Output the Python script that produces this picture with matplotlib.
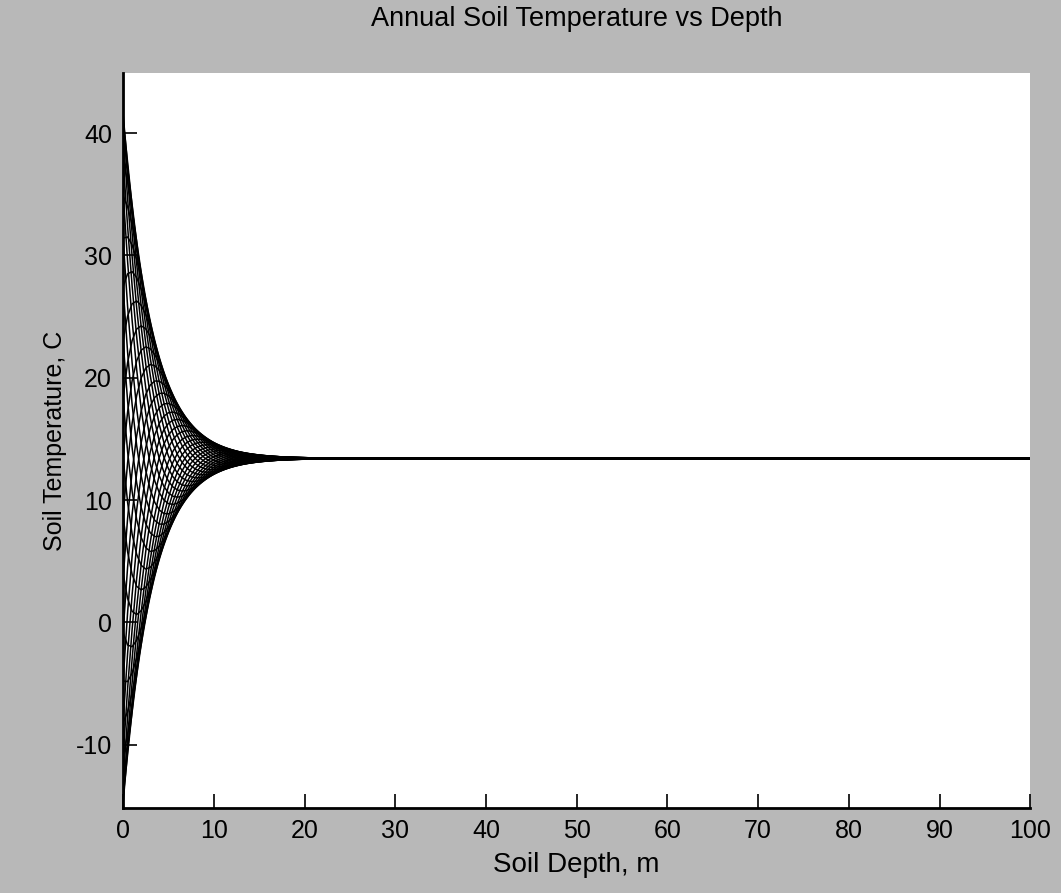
import numpy as np
import matplotlib.pyplot as plt

# values
mean_temp = 13.4          # deg C, the flat line at depth
surface_amp = 28.2        # deg C, half the spread at depth 0
damping_depth = 3.25      # m, where the swing has fallen to 1/e
day_of_year = [0, 10, 20, 30, 41, 51, 61, 71, 81, 91, 101, 112,
               122, 132, 142, 152, 162, 172, 183, 193, 203, 213, 223, 233,
               243, 254, 264, 274, 284, 294, 304, 314, 325, 335, 345, 355]
depth_m = np.arange(0, 100.5, 0.5)

xticks = [0, 10, 20, 30, 40, 50, 60, 70, 80, 90, 100]
yticks = [-10, 0, 10, 20, 30, 40]

plt.rcParams['font.family'] = ['Liberation Sans', 'DejaVu Sans']
plt.rcParams['axes.unicode_minus'] = False

fig = plt.figure(figsize=(10.61, 8.93), dpi=100, facecolor='#b8b8b8')
ax = fig.add_axes([0.116, 0.095, 0.855, 0.823])
ax.set_facecolor('white')

w = 2 * np.pi / 365.0
for t in day_of_year:
    temp = mean_temp + surface_amp * np.exp(-depth_m / damping_depth) * \
        np.cos(w * t - depth_m / damping_depth)
    ax.plot(depth_m, temp, color='black', linewidth=1.1)

ax.set_xlim(0, 100)
ax.set_ylim(-15.2, 44.9)
ax.set_xticks(xticks)
ax.set_yticks(yticks)
ax.tick_params(direction='in', length=10, width=1.2, labelsize=18, pad=8)
for s in ['top', 'right']:
    ax.spines[s].set_visible(False)
for s in ['left', 'bottom']:
    ax.spines[s].set_linewidth(2)

ax.set_title('Annual Soil Temperature vs Depth', fontsize=19.5, pad=34)
ax.set_xlabel('Soil Depth, m', fontsize=20, labelpad=6)
ax.set_ylabel('Soil Temperature, C', fontsize=18, labelpad=6)

fig.savefig('out.png', dpi=100, facecolor=fig.get_facecolor())
